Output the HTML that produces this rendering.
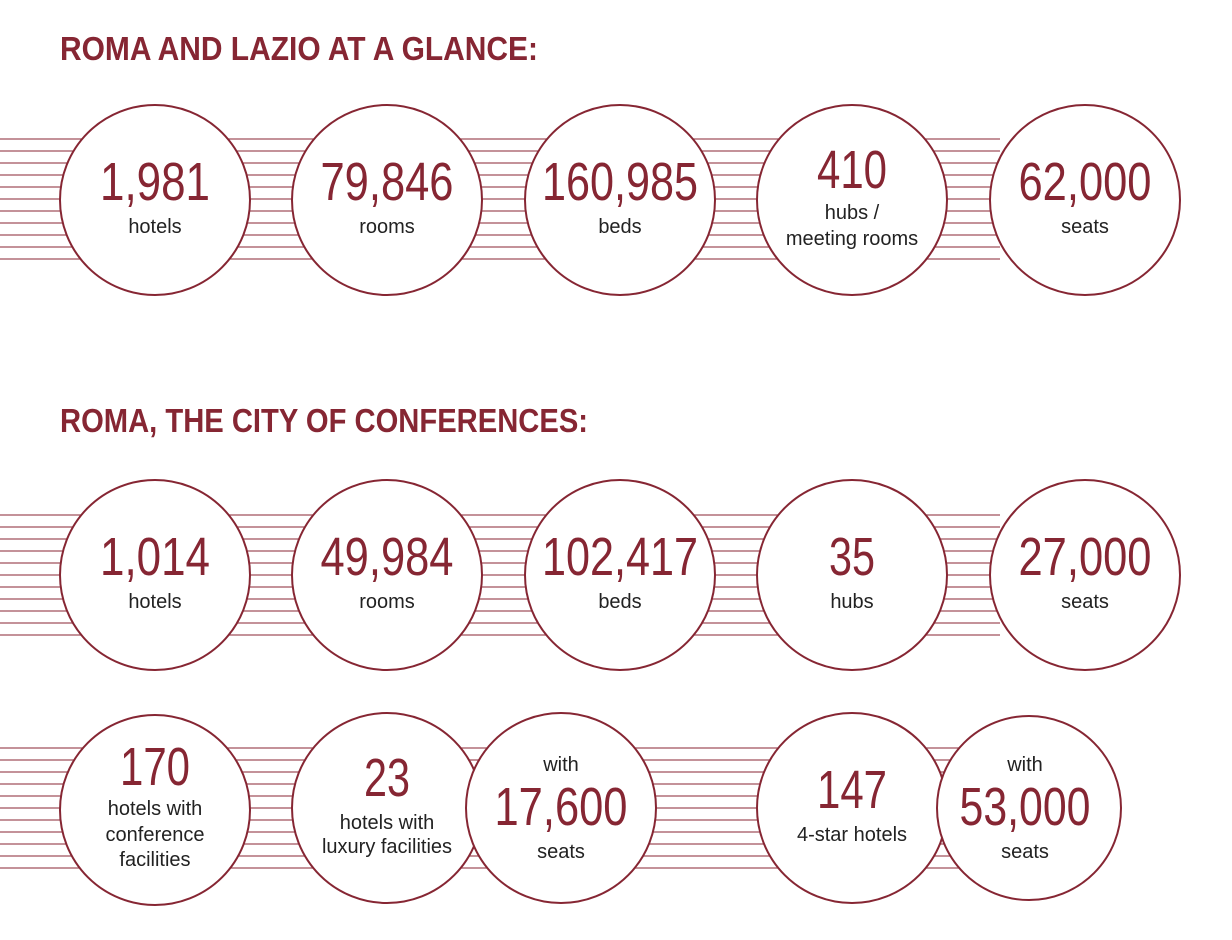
<!DOCTYPE html>
<html><head><meta charset="utf-8"><style>
html,body{margin:0;padding:0;background:#fff;}
svg{display:block;}
.n{font-family:"Liberation Sans",sans-serif;font-size:54px;fill:#862633;}
.l{font-family:"Liberation Sans",sans-serif;font-size:20px;fill:#222;}
.t{font-family:"Liberation Sans",sans-serif;font-size:33px;font-weight:bold;fill:#862633;}
circle{fill:#fff;stroke:#862633;stroke-width:2;}
</style></head><body>
<svg width="1232" height="940" viewBox="0 0 1232 940" xmlns="http://www.w3.org/2000/svg">
<defs>
<g id="lines" stroke="#a0505c" stroke-width="1.3">
<line x1="0" x2="1000" y1="0" y2="0"/><line x1="0" x2="1000" y1="12" y2="12"/><line x1="0" x2="1000" y1="24" y2="24"/><line x1="0" x2="1000" y1="36" y2="36"/><line x1="0" x2="1000" y1="48" y2="48"/><line x1="0" x2="1000" y1="60" y2="60"/><line x1="0" x2="1000" y1="72" y2="72"/><line x1="0" x2="1000" y1="84" y2="84"/><line x1="0" x2="1000" y1="96" y2="96"/><line x1="0" x2="1000" y1="108" y2="108"/><line x1="0" x2="1000" y1="120" y2="120"/>
</g>
</defs>
<text class="t" x="60" y="60" textLength="478" lengthAdjust="spacingAndGlyphs">ROMA AND LAZIO AT A GLANCE:</text>
<text class="t" x="60" y="432" textLength="528" lengthAdjust="spacingAndGlyphs">ROMA, THE CITY OF CONFERENCES:</text>

<use href="#lines" y="139"/>
<use href="#lines" y="515"/>
<use href="#lines" y="748"/>

<g text-anchor="middle">
<!-- row 1 -->
<circle cx="155" cy="200" r="95"/><circle cx="387" cy="200" r="95"/><circle cx="620" cy="200" r="95"/><circle cx="852" cy="200" r="95"/><circle cx="1085" cy="200" r="95"/>
<text class="n" x="155" y="200" textLength="110" lengthAdjust="spacingAndGlyphs">1,981</text>
<text class="l" x="155" y="233">hotels</text>
<text class="n" x="387" y="200" textLength="133" lengthAdjust="spacingAndGlyphs">79,846</text>
<text class="l" x="387" y="233">rooms</text>
<text class="n" x="620" y="200" textLength="156" lengthAdjust="spacingAndGlyphs">160,985</text>
<text class="l" x="620" y="233">beds</text>
<text class="n" x="852" y="188" textLength="70" lengthAdjust="spacingAndGlyphs">410</text>
<text class="l" x="852" y="219">hubs /</text>
<text class="l" x="852" y="245">meeting rooms</text>
<text class="n" x="1085" y="200" textLength="133" lengthAdjust="spacingAndGlyphs">62,000</text>
<text class="l" x="1085" y="233">seats</text>

<!-- row 2 -->
<circle cx="155" cy="575" r="95"/><circle cx="387" cy="575" r="95"/><circle cx="620" cy="575" r="95"/><circle cx="852" cy="575" r="95"/><circle cx="1085" cy="575" r="95"/>
<text class="n" x="155" y="575" textLength="110" lengthAdjust="spacingAndGlyphs">1,014</text>
<text class="l" x="155" y="608">hotels</text>
<text class="n" x="387" y="575" textLength="133" lengthAdjust="spacingAndGlyphs">49,984</text>
<text class="l" x="387" y="608">rooms</text>
<text class="n" x="620" y="575" textLength="156" lengthAdjust="spacingAndGlyphs">102,417</text>
<text class="l" x="620" y="608">beds</text>
<text class="n" x="852" y="575" textLength="46" lengthAdjust="spacingAndGlyphs">35</text>
<text class="l" x="852" y="608">hubs</text>
<text class="n" x="1085" y="575" textLength="133" lengthAdjust="spacingAndGlyphs">27,000</text>
<text class="l" x="1085" y="608">seats</text>

<!-- row 3 -->
<circle cx="155" cy="810" r="95"/><circle cx="387" cy="808" r="95"/><circle cx="561" cy="808" r="95"/><circle cx="852" cy="808" r="95"/><circle cx="1029" cy="808" r="92"/>
<text class="n" x="155" y="785" textLength="70" lengthAdjust="spacingAndGlyphs">170</text>
<text class="l" x="155" y="815">hotels with</text>
<text class="l" x="155" y="841">conference</text>
<text class="l" x="155" y="866">facilities</text>
<text class="n" x="387" y="796" textLength="46" lengthAdjust="spacingAndGlyphs">23</text>
<text class="l" x="387" y="829">hotels with</text>
<text class="l" x="387" y="853">luxury facilities</text>
<text class="l" x="561" y="771">with</text>
<text class="n" x="561" y="825" textLength="133" lengthAdjust="spacingAndGlyphs">17,600</text>
<text class="l" x="561" y="858">seats</text>
<text class="n" x="852" y="808" textLength="70" lengthAdjust="spacingAndGlyphs">147</text>
<text class="l" x="852" y="841">4-star hotels</text>
<text class="l" x="1025" y="771">with</text>
<text class="n" x="1025" y="825" textLength="131" lengthAdjust="spacingAndGlyphs">53,000</text>
<text class="l" x="1025" y="858">seats</text>
</g>
</svg>
</body></html>
